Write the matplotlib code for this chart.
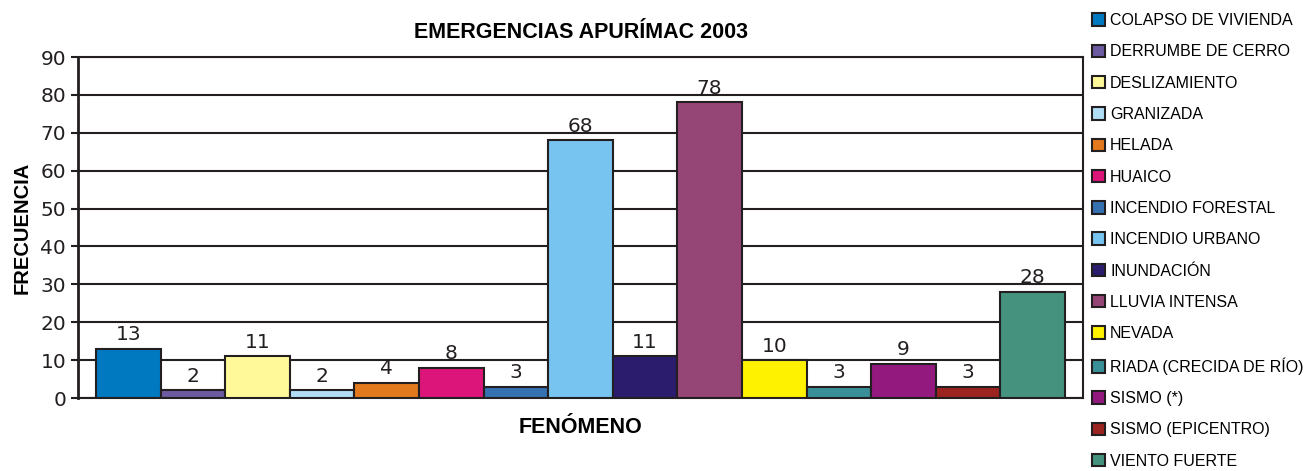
import matplotlib
matplotlib.use("Agg")
import matplotlib.pyplot as plt
from matplotlib.patches import Patch

# datos
fenomenos = ["COLAPSO DE VIVIENDA", "DERRUMBE DE CERRO", "DESLIZAMIENTO", "GRANIZADA",
             "HELADA", "HUAICO", "INCENDIO FORESTAL", "INCENDIO URBANO", "INUNDACIÓN",
             "LLUVIA INTENSA", "NEVADA", "RIADA (CRECIDA DE RÍO)", "SISMO (*)",
             "SISMO (EPICENTRO)", "VIENTO FUERTE"]
frecuencia = [13, 2, 11, 2, 4, 8, 3, 68, 11, 78, 10, 3, 9, 3, 28]
colores = ["#0079c0", "#6c5ba0", "#fff99a", "#b0ddf5", "#e2791d", "#dc157a", "#3570b0",
           "#76c4ef", "#2b1c6e", "#964577", "#fff200", "#3a9099", "#94197f", "#9b2320",
           "#45927f"]

fuente = ["Liberation Sans", "DejaVu Sans"]

fig = plt.figure(figsize=(13.13, 4.71), dpi=100)
ax = fig.add_axes([78/1313, 1-398/471, (1083-78)/1313, (398-57)/471])

x = list(range(len(frecuencia)))
ax.bar(x, frecuencia, width=1.0, color=colores, edgecolor="#231f20", linewidth=1.5, zorder=3)
for i, v in enumerate(frecuencia):
    ax.text(i, v + 1.2, str(v), ha="center", va="bottom", fontsize=14.5, color="#231f20")

ax.set_xlim(-0.78, len(frecuencia) - 0.22)
ax.set_ylim(0, 90)
ax.set_yticks(range(0, 91, 10))
ax.set_xticks([])
ax.tick_params(axis="y", labelsize=14.5, length=5, width=1.5, colors="#231f20")
ax.grid(axis="y", color="#231f20", linewidth=1.5, zorder=0)
for s in ["left", "bottom", "right", "top"]:
    ax.spines[s].set_linewidth(1.5)
    ax.spines[s].set_color("#231f20")
ax.spines["left"].set_linewidth(2)

ax.set_title("EMERGENCIAS APURÍMAC 2003", fontsize=15.5, fontweight="bold",
             family=fuente, pad=14)
ax.set_xlabel("FENÓMENO", fontsize=15.5, fontweight="bold", family=fuente, labelpad=14)
ax.set_ylabel("FRECUENCIA", fontsize=14.5, fontweight="bold", family=fuente, labelpad=6)

handles = [Patch(facecolor=c, edgecolor="#231f20", linewidth=1.5) for c in colores]
fig.legend(handles, fenomenos, loc="upper left", bbox_to_anchor=(1081/1313, 1 - 2/471),
           frameon=False, prop={"family": fuente, "size": 11.5},
           handlelength=0.82, handleheight=0.82, handletextpad=0.3,
           labelspacing=1.02, borderaxespad=0.3)

fig.savefig("out.png", dpi=100)
